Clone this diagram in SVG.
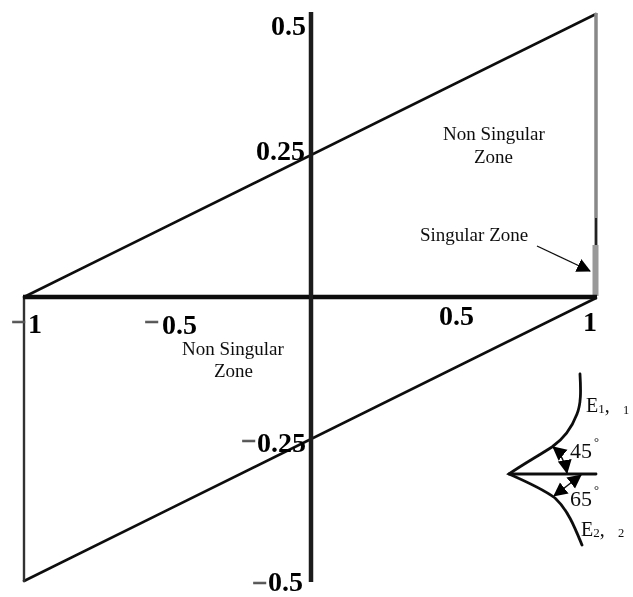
<svg xmlns="http://www.w3.org/2000/svg" width="633" height="597" viewBox="0 0 633 597">
<style>
text{font-family:"Liberation Serif","Times New Roman",serif;fill:#111}
.b{font-size:28px;font-weight:bold;fill:#000}
.m{font-size:27px;font-weight:bold;fill:#555;stroke:#555;stroke-width:0.500}
.s{font-size:19px}
.i{font-size:22px}
.e{font-size:20px}
.sub{font-size:12.500px}
.l{fill:none;stroke:#111;stroke-linecap:round}
</style>
<defs>
<marker id="a" markerWidth="15" markerHeight="15" refX="13" refY="7" orient="auto-start-reverse" markerUnits="userSpaceOnUse"><path d="M0 0L14 7L0 14Z" fill="#000"/></marker>
<filter id="soft" x="-5%" y="-5%" width="110%" height="110%"><feGaussianBlur stdDeviation="0.550"/></filter>
<filter id="softT" x="-5%" y="-5%" width="110%" height="110%"><feGaussianBlur stdDeviation="0.350"/></filter>
</defs>
<rect width="633" height="597" fill="#fff"/>
<g id="connectors" filter="url(#soft)">
<path class="l" d="M24 297L596 14" stroke-width="2.600"/>
<path class="l" d="M24 581L596 298" stroke-width="2.600"/>
<path class="l" d="M24 297V581" stroke-width="2.400" style="stroke:#333"/>
<path d="M596 13V296" fill="none" stroke="#888" stroke-width="3.500"/>
<path d="M596 218V250" fill="none" stroke="#222" stroke-width="2"/>
<path d="M595.500 245V296" fill="none" stroke="#999" stroke-width="6"/>
<path d="M23 297H597" fill="none" stroke="#0a0a0a" stroke-width="4.500"/>
<path d="M311 12V582" fill="none" stroke="#1a1a1a" stroke-width="4.500"/>
<path d="M537 246L590 271" fill="none" stroke="#111" stroke-width="1.300" marker-end="url(#a)"/>
</g>
<g id="axis-labels" filter="url(#softT)">
<text class="b" x="271" y="35">0.5</text>
<text class="b" x="256" y="160">0.25</text>
<text class="b" x="439" y="325">0.5</text>
<text class="b" x="583" y="331">1</text>
<text class="m" x="11" y="331">−</text><text class="b" x="28" y="333">1</text>
<text class="m" x="144" y="331">−</text><text class="b" x="162" y="334">0.5</text>
<text class="m" x="241" y="450">−</text><text class="b" x="257" y="452">0.25</text>
<text class="m" x="252" y="592">−</text><text class="b" x="268" y="591">0.5</text>
</g>
<g id="zone-upper" filter="url(#softT)"><text class="s" x="443" y="140">Non Singular</text><text class="s" x="474" y="163">Zone</text></g>
<g id="zone-singular" filter="url(#softT)"><text class="s" x="420" y="241">Singular Zone</text></g>
<g id="zone-lower" filter="url(#softT)"><text class="s" x="182" y="355">Non Singular</text><text class="s" x="214" y="377">Zone</text></g>
<g id="inset" filter="url(#softT)">
<path class="l" stroke-width="2.800" d="M580 374C581 392 581 404 577 414C571 430 562 440 552 447C538 456 522 465 509 474C525 481 543 489 555 498C568 510 575 528 582 545"/>
<path class="l" stroke-width="2.800" d="M509 474H596"/>
<path d="M553 447Q564 456 567 473" fill="none" stroke="#111" stroke-width="1.500" marker-start="url(#a)" marker-end="url(#a)"/>
<path d="M581 475L554 496" fill="none" stroke="#111" stroke-width="1.500" marker-start="url(#a)" marker-end="url(#a)"/>
<text class="i" x="570" y="458">45</text><text class="sub" x="594" y="446">°</text>
<text class="i" x="570" y="506">65</text><text class="sub" x="594" y="494">°</text>
<text class="e" x="586" y="412">E<tspan font-size="13" dy="1">1</tspan><tspan dy="-1">,</tspan></text>
<text class="sub" x="623" y="414">1</text>
<text class="e" x="581" y="536">E<tspan font-size="13" dy="1">2</tspan><tspan dy="-1">,</tspan></text>
<text class="sub" x="618" y="537">2</text>
</g>
</svg>
